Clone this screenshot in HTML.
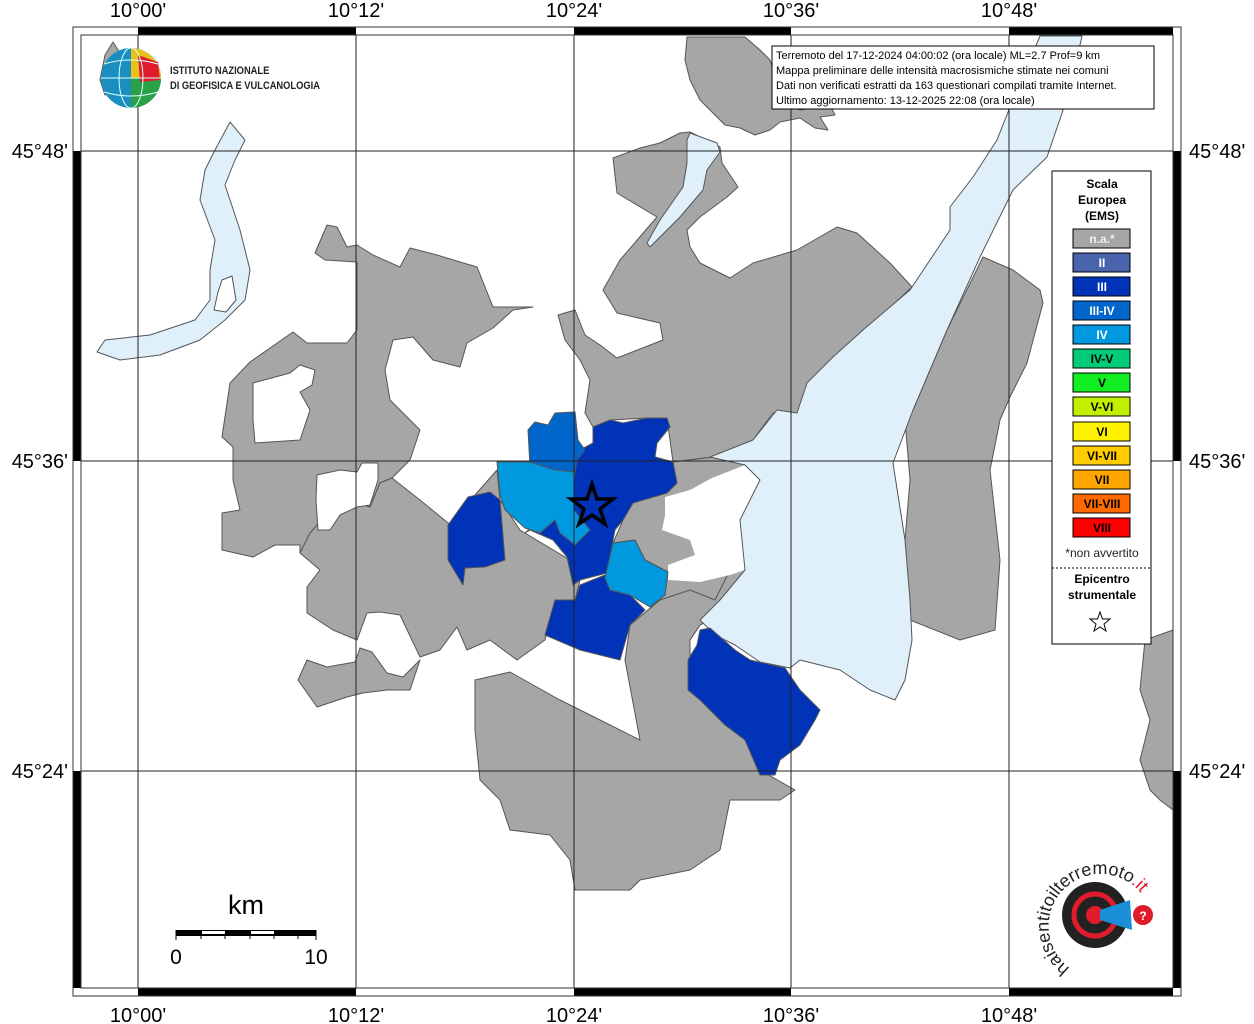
<!DOCTYPE html>
<html><head><meta charset="utf-8"><style>
html,body{margin:0;padding:0;background:#fff}
svg{display:block}
text{font-family:"Liberation Sans",sans-serif}
</style></head><body>
<svg width="1254" height="1024" viewBox="0 0 1254 1024" xmlns="http://www.w3.org/2000/svg">
<rect width="1254" height="1024" fill="#fff"/>
<g stroke="#555" stroke-width="1" stroke-linejoin="round">
<!-- gray areas -->
<polygon fill="#a6a6a6" points="357,330 347,343 307,343 293,332 250,362 230,383 222,437 233,447 233,480 240,510 222,513 222,550 253,557 275,545 300,545 300,553 330,545 357,503 370,507 380,483 392,478 400,470 410,460 420,430 390,400 385,370 393,340 413,337 433,360 460,367 467,343 493,328 513,310 533,307 493,307 477,267 460,262 437,255 410,248 400,267 373,255 357,245 347,247 337,227 327,225 315,253 325,260 357,262"/>
<polygon fill="#a6a6a6" points="300,553 310,533 333,507 357,503 370,507 380,483 392,478 420,500 453,527 475,495 497,470 500,500 520,530 545,545 570,560 580,580 575,600 555,600 545,640 517,660 490,640 467,650 457,627 440,650 420,657 400,615 380,612 367,613 357,640 333,630 307,613 307,587 320,570"/>
<polygon fill="#a6a6a6" points="298,680 307,660 327,667 355,662 360,648 372,652 387,673 403,677 420,660 410,690 387,690 363,693 347,697 317,707"/>
<polygon fill="#a6a6a6" points="558,315 575,310 585,335 600,345 617,358 663,340 660,323 617,313 603,290 620,260 657,217 617,193 613,158 640,148 660,143 680,133 690,132 720,147 722,163 738,187 727,197 700,217 687,230 690,247 700,263 730,278 753,263 797,250 837,227 857,233 890,263 912,287 880,317 840,353 810,383 800,413 773,413 753,440 713,457 673,462 667,418 647,418 610,420 593,427 585,413 590,380 580,360 565,340"/>
<polygon fill="#a6a6a6" points="687,37 745,37 760,50 770,60 775,75 775,90 790,105 800,110 830,105 835,115 820,117 828,130 815,128 800,118 780,122 770,130 755,135 740,128 725,125 710,110 700,100 690,80 685,60"/>
<polygon fill="#a6a6a6" points="655,457 673,462 713,457 745,465 760,480 740,520 745,570 720,600 700,625 690,640 670,600 650,607 665,595 668,572 645,560 635,540 613,543 623,520 633,503 667,493 677,483"/>
<polygon fill="#a6a6a6" points="983,257 1013,270 1040,290 1043,303 1027,363 1010,397 1000,420 990,470 1000,560 995,630 960,640 910,620 905,540 910,480 905,420 913,410 947,330"/>
<polygon fill="#a6a6a6" points="475,680 510,672 560,700 600,720 640,740 625,660 630,625 660,600 690,590 715,600 730,570 745,570 720,615 700,625 690,640 690,690 740,730 760,770 795,790 780,800 730,800 720,850 690,870 640,880 630,890 575,890 570,860 550,835 510,830 500,800 480,780 475,730"/>
<polygon fill="#a6a6a6" points="1145,640 1173,630 1173,810 1160,800 1150,790 1140,760 1150,720 1140,690"/>
<polygon fill="#a6a6a6" points="100,80 105,55 113,42 118,50 125,60 122,90 105,95"/>
<!-- white holes -->
<polygon fill="#fff" points="253,383 290,373 300,365 315,370 312,385 300,392 310,410 300,440 255,443 253,420"/>
<polygon fill="#fff" points="317,475 340,470 357,472 362,463 378,463 378,480 370,505 357,507 340,515 330,530 318,530 316,500"/>
<polygon fill="#fff" stroke="none" points="665,497 690,490 712,478 745,465 760,480 740,520 745,570 730,575 700,582 668,580 668,565 695,555 690,540 662,530 665,515"/>
<!-- lakes -->
<polygon fill="#dff0fb" points="1040,36 1082,36 1070,90 1047,157 1013,190 980,257 947,330 913,410 893,463 905,540 910,600 912,640 905,680 895,700 870,690 840,670 800,660 790,668 760,662 735,645 715,635 700,620 720,600 745,570 740,520 760,480 745,465 710,457 753,440 777,410 797,413 807,383 833,357 863,330 910,290 950,230 950,207 973,177 997,140 1010,107"/>
<polygon fill="#dff0fb" points="230,122 245,140 235,160 225,185 240,230 250,270 245,300 225,320 200,340 160,355 120,360 97,352 105,340 150,335 195,320 210,300 210,270 215,240 200,200 205,170 215,150"/>
<polygon fill="#fff" points="222,280 232,276 236,300 226,312 214,310 218,292"/>
<polygon fill="#dff0fb" points="690,133 717,143 720,152 707,170 703,190 680,217 650,247 647,243 660,220 683,187 687,163 687,140"/>
<!-- blues -->
<polygon fill="#0033b8" points="577,460 580,450 593,443 593,427 610,420 623,423 647,418 667,418 670,427 657,443 655,457 673,462 677,483 667,493 633,503 623,520 615,530 613,540 607,573 580,580 573,585 567,557 553,540 530,530 525,533 540,520 560,500"/>
<polygon fill="#0066cc" points="528,430 535,422 548,425 555,413 575,412 578,440 585,450 577,460 575,472 555,470 530,467"/>
<polygon fill="#0099e0" points="497,462 530,462 555,470 575,472 574,480 574,510 590,530 575,545 560,533 555,520 540,533 525,528 505,510 500,495"/>
<polygon fill="#0033b8" points="448,525 468,497 490,492 500,500 505,560 485,567 465,568 463,585 448,560"/>
<polygon fill="#0033b8" points="545,635 555,600 575,600 580,585 605,575 610,590 630,595 645,610 630,625 620,660 600,655 580,650"/>
<polygon fill="#0099e0" points="605,578 613,543 635,540 645,560 668,572 665,595 650,607 630,595 610,590"/>
<polygon fill="#0033b8" points="688,660 697,645 700,630 710,628 735,650 750,660 785,668 800,690 820,710 815,720 800,745 780,760 775,775 760,775 745,740 725,725 700,700 688,690"/>
</g>
<!-- grid -->
<g stroke="#222" stroke-width="1">
<line x1="138" y1="35" x2="138" y2="988"/><line x1="356" y1="35" x2="356" y2="988"/><line x1="574" y1="35" x2="574" y2="988"/><line x1="791" y1="35" x2="791" y2="988"/><line x1="1009" y1="35" x2="1009" y2="988"/>
<line x1="81" y1="151" x2="1173" y2="151"/><line x1="81" y1="461" x2="1173" y2="461"/><line x1="81" y1="771" x2="1173" y2="771"/>
</g>
<!-- frame -->
<g fill="#000">
<rect x="138" y="27" width="218" height="8"/><rect x="574" y="27" width="217" height="8"/><rect x="1009" y="27" width="164" height="8"/>
<rect x="138" y="988" width="218" height="8"/><rect x="574" y="988" width="217" height="8"/><rect x="1009" y="988" width="164" height="8"/>
<rect x="73" y="151" width="8" height="310"/><rect x="73" y="771" width="8" height="217"/>
<rect x="1173" y="151" width="8" height="310"/><rect x="1173" y="771" width="8" height="217"/>
</g>
<rect x="73" y="27" width="1108" height="969" fill="none" stroke="#333" stroke-width="1"/>
<rect x="81" y="35" width="1092" height="953" fill="none" stroke="#333" stroke-width="1"/>
<!-- tick labels -->
<g font-size="20" fill="#000" text-anchor="middle">
<text x="138" y="17">10°00'</text><text x="356" y="17">10°12'</text><text x="574" y="17">10°24'</text><text x="791" y="17">10°36'</text><text x="1009" y="17">10°48'</text>
<text x="138" y="1022">10°00'</text><text x="356" y="1022">10°12'</text><text x="574" y="1022">10°24'</text><text x="791" y="1022">10°36'</text><text x="1009" y="1022">10°48'</text>
</g>
<g font-size="20" fill="#000">
<text x="68" y="158" text-anchor="end">45°48'</text><text x="68" y="468" text-anchor="end">45°36'</text><text x="68" y="778" text-anchor="end">45°24'</text>
<text x="1189" y="158">45°48'</text><text x="1189" y="468">45°36'</text><text x="1189" y="778">45°24'</text>
</g>
<!-- star -->
<polygon points="592,484 597,499 613,499 600,509 605,524 592,515 579,524 584,509 571,499 587,499" fill="#0033b8" stroke="#000" stroke-width="3.5"/>
<!-- info box -->
<rect x="772" y="46" width="382" height="63" fill="#fff" stroke="#000"/>
<g font-size="11" fill="#000">
<text x="776" y="59">Terremoto del 17-12-2024 04:00:02 (ora locale) ML=2.7 Prof=9 km</text>
<text x="776" y="74">Mappa preliminare delle intensità macrosismiche stimate nei comuni</text>
<text x="776" y="89">Dati non verificati estratti da 163 questionari compilati tramite Internet.</text>
<text x="776" y="104">Ultimo aggiornamento: 13-12-2025 22:08 (ora locale)</text>
</g>
<!-- legend -->
<rect x="1052" y="171" width="99" height="473" fill="#fff" stroke="#000"/>
<g font-size="12" font-weight="bold" text-anchor="middle" fill="#000">
<text x="1102" y="188">Scala</text><text x="1102" y="204">Europea</text><text x="1102" y="220">(EMS)</text>
</g>
<g stroke="#000" stroke-width="1">
<rect x="1073" y="229" width="57" height="19" fill="#a6a6a6"/>
<rect x="1073" y="253" width="57" height="19" fill="#4a64ac"/>
<rect x="1073" y="277" width="57" height="19" fill="#0033b8"/>
<rect x="1073" y="301" width="57" height="19" fill="#0066cc"/>
<rect x="1073" y="325" width="57" height="19" fill="#0099e0"/>
<rect x="1073" y="349" width="57" height="19" fill="#00cc77"/>
<rect x="1073" y="373" width="57" height="19" fill="#11ee22"/>
<rect x="1073" y="397" width="57" height="19" fill="#c0f000"/>
<rect x="1073" y="422" width="57" height="19" fill="#fff200"/>
<rect x="1073" y="446" width="57" height="19" fill="#ffcc00"/>
<rect x="1073" y="470" width="57" height="19" fill="#ffa500"/>
<rect x="1073" y="494" width="57" height="19" fill="#ff6a00"/>
<rect x="1073" y="518" width="57" height="19" fill="#ff0000"/>
</g>
<g font-size="12" font-weight="bold" text-anchor="middle">
<text x="1102" y="243" fill="#eee">n.a.*</text>
<text x="1102" y="267" fill="#fff">II</text>
<text x="1102" y="291" fill="#fff">III</text>
<text x="1102" y="315" fill="#fff">III-IV</text>
<text x="1102" y="339" fill="#fff">IV</text>
<text x="1102" y="363" fill="#000">IV-V</text>
<text x="1102" y="387" fill="#000">V</text>
<text x="1102" y="411" fill="#000">V-VI</text>
<text x="1102" y="436" fill="#000">VI</text>
<text x="1102" y="460" fill="#000">VI-VII</text>
<text x="1102" y="484" fill="#000">VII</text>
<text x="1102" y="508" fill="#000">VII-VIII</text>
<text x="1102" y="532" fill="#000">VIII</text>
</g>
<text x="1102" y="557" font-size="12" text-anchor="middle" fill="#222">*non avvertito</text>
<line x1="1052" y1="568" x2="1151" y2="568" stroke="#000" stroke-dasharray="2,2"/>
<g font-size="12" font-weight="bold" text-anchor="middle"><text x="1102" y="583">Epicentro</text><text x="1102" y="599">strumentale</text></g>
<polygon points="1100,612 1102.5,619 1110,619 1104,624 1106,631 1100,627 1094,631 1096,624 1090,619 1097.5,619" fill="#fff" stroke="#000"/>
<!-- scale bar -->
<text x="246" y="914" font-size="27" text-anchor="middle">km</text>
<rect x="176" y="930" width="140" height="6" fill="#000"/>
<rect x="202" y="931" width="23" height="3" fill="#fff"/><rect x="251" y="931" width="23" height="3" fill="#fff"/>
<g stroke="#000"><line x1="176" y1="930" x2="176" y2="940"/><line x1="316" y1="930" x2="316" y2="940"/><line x1="201" y1="936" x2="201" y2="939"/><line x1="225" y1="936" x2="225" y2="939"/><line x1="250" y1="936" x2="250" y2="939"/><line x1="274" y1="936" x2="274" y2="939"/><line x1="298" y1="936" x2="298" y2="939"/></g>
<text x="176" y="964" font-size="21" text-anchor="middle">0</text>
<text x="316" y="964" font-size="21" text-anchor="middle">10</text>
<!-- INGV logo -->
<circle cx="131" cy="78" r="30" fill="#1a8fbf"/>
<path d="M131,48 A30,30 0 0 1 161,78 L131,78 Z" fill="#e8c21a"/>
<path d="M161,78 A30,30 0 0 1 131,108 L131,78 Z" fill="#2aa048"/>
<path d="M138,55 L158,62 L160,80 L140,82 Z" fill="#e01b2b"/>
<g stroke="#dff" stroke-width="1" fill="none"><ellipse cx="131" cy="78" rx="12" ry="30"/><line x1="101" y1="78" x2="161" y2="78"/><path d="M104,64 Q131,56 158,64"/><path d="M104,92 Q131,100 158,92"/></g>
<g font-size="11" font-weight="bold" fill="#222" transform="scale(0.85,1)"><text x="200" y="74">ISTITUTO NAZIONALE</text><text x="200" y="89">DI GEOFISICA E VULCANOLOGIA</text></g>
<!-- haisentito logo -->
<circle cx="1095" cy="915" r="33" fill="#222"/>
<circle cx="1095" cy="915" r="21" fill="none" stroke="#e01b2b" stroke-width="5"/>
<circle cx="1095" cy="915" r="9" fill="#e01b2b"/>
<polygon points="1100,910 1130,900 1132,930 1100,920" fill="#1a8fd8"/>
<circle cx="1143" cy="915" r="10" fill="#e01b2b"/>
<text x="1143" y="920" font-size="12" font-weight="bold" fill="#fff" text-anchor="middle">?</text>
<defs><path id="arc" d="M1070,968 A52,52 0 1 1 1140,960"/></defs>
<text font-size="18" fill="#222"><textPath href="#arc">haisentitoilterremoto<tspan fill="#e01b2b">.it</tspan></textPath></text>
</svg>
</body></html>
